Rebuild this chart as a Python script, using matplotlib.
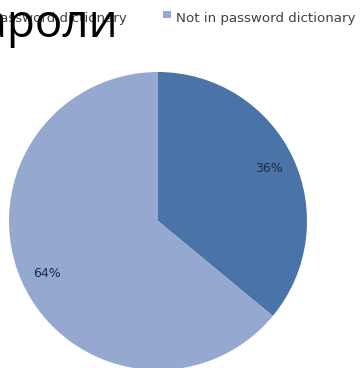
import matplotlib
matplotlib.use("Agg")
import matplotlib.pyplot as plt
from matplotlib.patches import Rectangle

# Share of passwords found in a dictionary
labels = ["In password dictionary", "Not in password dictionary"]
shares = [36, 64]
colors = ["#4A74A8", "#95A9D0"]
title = "Пароли"

W, H = 364, 368
fig = plt.figure(figsize=(W / 100, H / 100), dpi=100)
fig.patch.set_facecolor("white")

# pie sits in a square axes, centre ~ (158, 221) px, radius ~149 px
cx, cy, r = 158, 221, 149
ax = fig.add_axes([(cx - r) / W, (H - cy - r) / H, 2 * r / W, 2 * r / H])
wedges, _, autotexts = ax.pie(
    shares, colors=colors, startangle=90, counterclock=False,
    autopct="%1.0f%%", pctdistance=0.82, radius=1.0,
    textprops=dict(color="#1C2A44", fontsize=9, family="DejaVu Sans"),
)
ax.set_xlim(-1, 1)
ax.set_ylim(-1, 1)
ax.set_aspect("equal")
ax.axis("off")

# legend row along the top, first entry runs off the left edge
legend_right = [127, None]
legend_left = [None, 176]
for i, (lab, col) in enumerate(zip(labels, colors)):
    if legend_left[i] is not None:
        x = legend_left[i]
        fig.text(x / W, 1 - 22 / H, lab, ha="left", va="baseline",
                 fontsize=9.6, color="#404040", family="DejaVu Sans")
        fig.add_artist(Rectangle(((x - 13) / W, 1 - 18 / H), 8 / W, 7 / H,
                                 transform=fig.transFigure, color=col, lw=0))
    else:
        x = legend_right[i]
        fig.text(x / W, 1 - 22 / H, lab, ha="right", va="baseline",
                 fontsize=9.6, color="#404040", family="DejaVu Sans")

# large heading cut by the left edge
fig.text(118 / W, 1 - 37 / H, title, ha="right", va="baseline",
         fontsize=33, color="black", family="Open Sans", zorder=5)

fig.savefig("out.png", dpi=100)
